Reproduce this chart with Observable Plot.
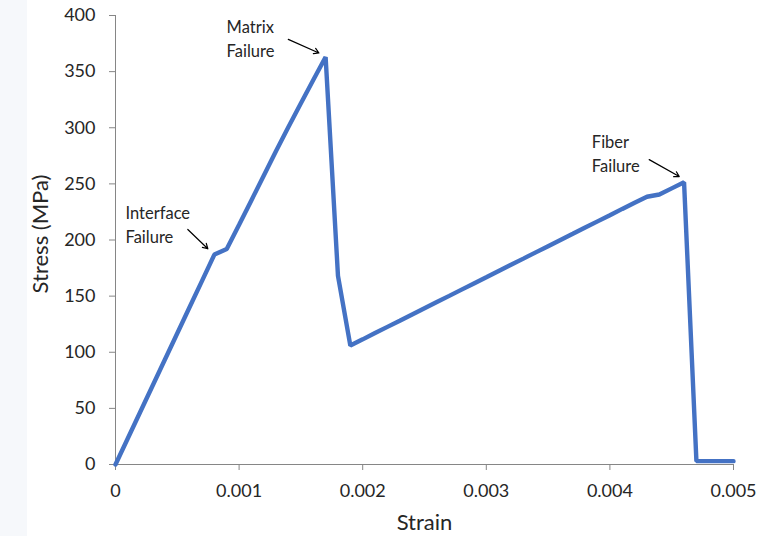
<!DOCTYPE html>
<html>
<head>
<meta charset="utf-8">
<script src="https://cdn.jsdelivr.net/npm/d3@7"></script>
<script src="https://cdn.jsdelivr.net/npm/@observablehq/plot@0.6"></script>
<style>
  html, body { margin: 0; padding: 0; background: #ffffff; }
  #wrap { position: relative; width: 763px; height: 536px; overflow: hidden; }
  #strip { position: absolute; left: 0; top: 0; width: 27px; height: 536px; background: #f6f8fb; }
  #chart { position: absolute; left: 0; top: 0; }
</style>
</head>
<body>
<div id="wrap"><div id="strip"></div><div id="chart"></div></div>
<script>
const strain = [0, 0.0001, 0.0002, 0.0003, 0.0004, 0.0005, 0.0006, 0.0007, 0.0008, 0.0009,
  0.0010, 0.0011, 0.0012, 0.0013, 0.0014, 0.0015, 0.0016, 0.0017, 0.0018, 0.0019,
  0.0020, 0.0021, 0.0022, 0.0023, 0.0024, 0.0025, 0.0026, 0.0027, 0.0028, 0.0029,
  0.0030, 0.0031, 0.0032, 0.0033, 0.0034, 0.0035, 0.0036, 0.0037, 0.0038, 0.0039,
  0.0040, 0.0041, 0.0042, 0.0043, 0.0044, 0.0045, 0.0046, 0.0047, 0.0048, 0.0049, 0.0050];
const stress = [0, 23.4, 46.8, 70.2, 93.5, 116.9, 140.3, 163.6, 187, 192,
  213.5, 235.5, 257.5, 279.5, 300.8, 321.8, 342.5, 363, 168, 106,
  111.5, 117.1, 122.6, 128.1, 133.7, 139.2, 144.7, 150.2, 155.8, 161.3,
  166.8, 172.4, 177.9, 183.4, 189, 194.5, 200, 205.5, 211.1, 216.6,
  222.1, 227.7, 233.2, 238.5, 240.5, 246, 251.4, 3, 3, 3, 3];

const xTicks = [0, 0.001, 0.002, 0.003, 0.004, 0.005];
const xTickLabels = ["0", "0.001", "0.002", "0.003", "0.004", "0.005"];
const yTicks = [0, 50, 100, 150, 200, 250, 300, 350, 400];

const noteText = ["Interface\nFailure", "Matrix\nFailure", "Fiber\nFailure"];
const noteX = [0.000081, 0.000899, 0.003854];
const noteY = [214.7, 380.6, 277.9];
const arrowX1 = [0.000585, 0.001398, 0.004318];
const arrowY1 = [209.4, 378.7, 271.6];
const arrowX2 = [0.000747, 0.001646, 0.004561];
const arrowY2 = [192.2, 366.6, 256.5];

const data = strain.map((s, i) => ({strain: s, stress: stress[i]}));
const notes = noteText.map((t, i) => ({t, x: noteX[i], y: noteY[i], x1: arrowX1[i], y1: arrowY1[i], x2: arrowX2[i], y2: arrowY2[i]}));

const font = "Lato, 'Open Sans', sans-serif";
const axisColor = "#868686";
const textColor = "#262626";

const chart = Plot.plot({
  width: 763,
  height: 536,
  marginLeft: 115,
  marginRight: 30,
  marginTop: 15,
  marginBottom: 72,
  style: {fontFamily: font, background: "transparent", color: textColor},
  x: {domain: [0, 0.005]},
  y: {domain: [0, 400]},
  marks: [
    Plot.ruleY([0], {stroke: axisColor, strokeWidth: 1}),
    Plot.ruleX([0], {stroke: axisColor, strokeWidth: 1}),
    Plot.axisX({ticks: xTicks, tickFormat: (d) => xTickLabels[xTicks.indexOf(d)], tickSize: 6, tickPadding: 14, stroke: axisColor, fill: textColor, fontSize: 18, label: null}),
    Plot.axisY({ticks: yTicks, tickSize: 6, tickPadding: 14, stroke: axisColor, fill: textColor, fontSize: 18, label: null}),
    Plot.text(["Strain"], {frameAnchor: "bottom", lineAnchor: "middle", textAnchor: "middle", dy: 58, fontSize: 22, fill: textColor}),
    Plot.text(["Stress (MPa)"], {frameAnchor: "left", lineAnchor: "middle", textAnchor: "middle", rotate: -90, dx: -75, dy: -6, fontSize: 22, fill: textColor}),
    Plot.line(data, {x: "strain", y: "stress", stroke: "#4472C4", strokeWidth: 4.4, strokeLinejoin: "miter"}),
    Plot.text(notes, {x: "x", y: "y", text: "t", textAnchor: "start", lineAnchor: "middle", lineHeight: 1.45, fontSize: 16.5, fill: textColor}),
    Plot.arrow(notes, {x1: "x1", y1: "y1", x2: "x2", y2: "y2", stroke: "#000", strokeWidth: 1.2, headLength: 7})
  ]
});
document.getElementById("chart").appendChild(chart);
</script>
</body>
</html>
